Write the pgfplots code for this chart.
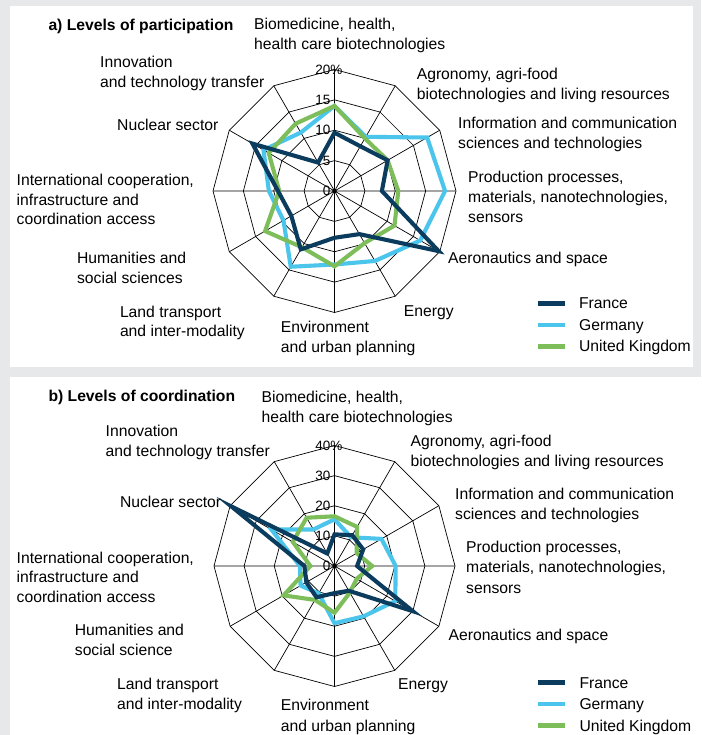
\documentclass[border=0pt]{standalone}
\usepackage{fontspec}
\setmainfont{Liberation Sans}
\usepackage{pgfplots}
\pgfplotsset{compat=1.18}
\usepackage{pgfplotstable}
\usepgfplotslibrary{polar}

\definecolor{frC}{HTML}{0B3C5D}
\definecolor{deC}{HTML}{4BC5EB}
\definecolor{ukC}{HTML}{7DBE5A}
\definecolor{bgC}{HTML}{E7E8EA}

\newcommand\lblfont{\fontsize{15.7}{19}\selectfont}
\newcommand\tickfont{\fontsize{13.5}{16}\selectfont}

% angle (deg), share in %  -- clockwise from Biomedicine at the top
\pgfplotstableread{
ang   fr    de    uk
90    9.6   14.0  14.0
60    8.5   10.3  10.0
30   10.1   17.6  10.1
0     7.8   18.2  10.5
-30  19.8   16.3  11.4
-60   8.2   13.3   9.9
-90   7.7   12.1  12.4
-120 11.1   14.4  10.7
-150  8.2    9.7  13.2
180   9.3   10.8   9.1
150  15.6   13.5  12.5
120   5.4   11.1  12.8
}\partA

\pgfplotstableread{
ang   fr    de    uk
90   10.5  15.5  16.5
60   11.8  11.0  15.0
30   11.0  18.0   8.5
0     7.5  20.3  12.5
-30  30.0  23.3   8.5
-60   9.5  19.3  10.2
-90   9.0  19.0  15.5
-120 12.0  10.5  13.0
-150 10.8  13.0  19.5
180  10.0  11.5   8.0
150  39.5  24.2  16.0
120   4.8  14.0  18.5
}\partB

\tikzset{
  frline/.style={draw=frC, line width=4.1pt},
  deline/.style={draw=deC, line width=4.1pt},
  ukline/.style={draw=ukC, line width=4.1pt},
  gridl/.style={draw=black, line width=0.7pt},
  lbl/.style={anchor=base west, inner sep=0pt, font=\lblfont},
  tck/.style={anchor=east, inner sep=0pt, font=\tickfont, xshift=-4pt},
}

\pgfplotsset{
  radar/.style={
    hide axis, clip=false, anchor=origin,
    legend cell align=left,
    legend style={draw=none, fill=none, inner sep=0pt, outer sep=0pt,
      anchor=north west, font=\lblfont, row sep=6.5pt,
      nodes={inner sep=0pt, anchor=base west, text height=11.5pt, text depth=3.5pt},
      /tikz/every odd column/.style={column sep=12pt}},
    legend image code/.code={\draw[##1, line cap=butt] (0pt,5.5pt) -- (27pt,5.5pt);},
  },
  series/.style={data cs=polar, line join=miter, mark=none, forget plot},
}

\begin{document}
\begin{tikzpicture}
\fill[bgC] (0,0) rectangle (701pt,735pt);
\fill[white] (10pt,368pt) rectangle (693pt,729pt);
\fill[white] (10pt,0pt) rectangle (701pt,358pt);

% ---------- a) participation ----------
\begin{axis}[radar, x=6.075pt, y=6.075pt,
  xmin=-20, xmax=20, ymin=-20, ymax=20,
  at={(334.5pt,544pt)},
  legend style={at={(axis cs:33.17,-17.53)}}]
\addlegendimage{frline}\addlegendentry{France}
\addlegendimage{deline}\addlegendentry{Germany}
\addlegendimage{ukline}\addlegendentry{United Kingdom}
\draw[gridl, shift={(axis cs:0,0)}] \foreach \r in {30.375,60.75,91.125,121.5}{
  (0:\r pt) \foreach \a in {30,60,...,330}{ -- (\a:\r pt)} -- cycle};
\draw[gridl, shift={(axis cs:0,0)}] \foreach \a in {0,30,...,330}{(0pt,0pt) -- (\a:121.5pt)};
\node[tck] at (axis cs:0,0) {0};
\node[tck] at (axis cs:0,5) {5};
\node[tck] at (axis cs:0,10) {10};
\node[tck] at (axis cs:0,15) {15};
\node[tck] at (axis cs:0,20) {20\rlap{\%}};
\addplot[series, deline] table[x=ang, y=de] {\partA} -- cycle;
\addplot[series, ukline] table[x=ang, y=uk] {\partA} -- cycle;
\addplot[series, frline] table[x=ang, y=fr] {\partA} -- cycle;
\end{axis}

% ---------- b) coordination ----------
\begin{axis}[radar, x=3.0125pt, y=3.0125pt,
  xmin=-40, xmax=40, ymin=-40, ymax=40,
  at={(334.5pt,169pt)},
  legend style={at={(axis cs:67.02,-36.68)}}]
\addlegendimage{frline}\addlegendentry{France}
\addlegendimage{deline}\addlegendentry{Germany}
\addlegendimage{ukline}\addlegendentry{United Kingdom}
\draw[gridl, shift={(axis cs:0,0)}] \foreach \r in {30.125,60.25,90.375,120.5}{
  (0:\r pt) \foreach \a in {30,60,...,330}{ -- (\a:\r pt)} -- cycle};
\draw[gridl, shift={(axis cs:0,0)}] \foreach \a in {0,30,...,330}{(0pt,0pt) -- (\a:120.5pt)};
\node[tck] at (axis cs:0,0) {0};
\node[tck] at (axis cs:0,10) {10};
\node[tck] at (axis cs:0,20) {20};
\node[tck] at (axis cs:0,30) {30};
\node[tck] at (axis cs:0,40) {40\rlap{\%}};
\addplot[series, deline] table[x=ang, y=de] {\partB} -- cycle;
\addplot[series, ukline] table[x=ang, y=uk] {\partB} -- cycle;
\addplot[series, frline] table[x=ang, y=fr] {\partB} -- cycle;
\end{axis}

% ---------- category labels (image pixel coordinates, y downwards) ----------
\begin{scope}[x=1pt, y=-1pt, shift={(0pt,735pt)}]
\node[lbl, font=\lblfont\bfseries] at (48.3,31) {a) Levels of participation};
\node[lbl] at (254,30) {Biomedicine, health,};
\node[lbl] at (254,49.5) {health care biotechnologies};
\node[lbl] at (416.6,80) {Agronomy, agri-food};
\node[lbl] at (416.6,100) {biotechnologies and living resources};
\node[lbl] at (458,129) {Information and communication};
\node[lbl] at (458,149) {sciences and technologies};
\node[lbl] at (468,183) {Production processes,};
\node[lbl] at (468,203) {materials, nanotechnologies,};
\node[lbl] at (468,223) {sensors};
\node[lbl] at (448,264) {Aeronautics and space};
\node[lbl] at (403.7,317) {Energy};
\node[lbl] at (280.7,333) {Environment};
\node[lbl] at (280.7,353) {and urban planning};
\node[lbl] at (119.8,317.5) {Land transport};
\node[lbl] at (119.8,337) {and inter-modality};
\node[lbl] at (76.9,264) {Humanities and};
\node[lbl] at (76.9,284) {social sciences};
\node[lbl] at (16.5,186) {International cooperation,};
\node[lbl] at (16.5,205.5) {infrastructure and};
\node[lbl] at (16.5,225) {coordination access};
\node[lbl] at (117,131) {Nuclear sector};
\node[lbl] at (100,68) {Innovation};
\node[lbl] at (100,88) {and technology transfer};

\node[lbl, font=\lblfont\bfseries] at (48.3,402) {b) Levels of coordination};
\node[lbl] at (261.5,402.7) {Biomedicine, health,};
\node[lbl] at (261.5,422.7) {health care biotechnologies};
\node[lbl] at (410.4,447) {Agronomy, agri-food};
\node[lbl] at (410.4,466.7) {biotechnologies and living resources};
\node[lbl] at (455,500) {Information and communication};
\node[lbl] at (455,520) {sciences and technologies};
\node[lbl] at (466,552.7) {Production processes,};
\node[lbl] at (466,572.7) {materials, nanotechnologies,};
\node[lbl] at (466,593.3) {sensors};
\node[lbl] at (448.4,641) {Aeronautics and space};
\node[lbl] at (398,689.3) {Energy};
\node[lbl] at (280.7,711) {Environment};
\node[lbl] at (280.7,732) {and urban planning};
\node[lbl] at (117,689.3) {Land transport};
\node[lbl] at (117,709.3) {and inter-modality};
\node[lbl] at (74.7,636) {Humanities and};
\node[lbl] at (74.7,655.3) {social science};
\node[lbl] at (16.5,563.3) {International cooperation,};
\node[lbl] at (16.5,583) {infrastructure and};
\node[lbl] at (16.5,602.7) {coordination access};
\node[lbl] at (119.8,507.7) {Nuclear sector};
\node[lbl] at (105.5,437) {Innovation};
\node[lbl] at (105.5,457) {and technology transfer};
\end{scope}

\pgfresetboundingbox
\useasboundingbox (0,0) rectangle (701pt,735pt);
\end{tikzpicture}
\end{document}
